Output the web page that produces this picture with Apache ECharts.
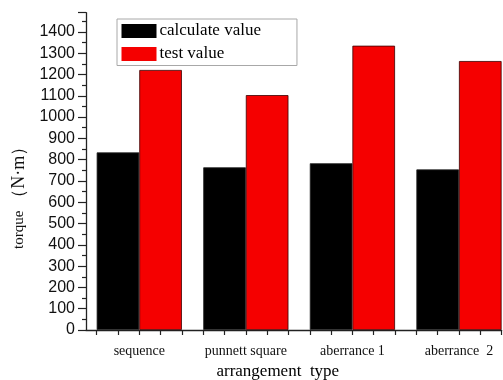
<!DOCTYPE html>
<html>
<head>
<meta charset="utf-8">
<script src="https://cdn.jsdelivr.net/npm/echarts@6/dist/echarts.min.js"></script>
<style>
  html, body { margin: 0; padding: 0; background: #fff; }
  #chart { width: 503px; height: 380px; }
</style>
</head>
<body>
<div id="chart"></div>
<script>
// Arrangement types along the x axis
const categories = ['sequence', 'punnett square', 'aberrance 1', 'aberrance  2'];
// Torque values (N·m) for each arrangement
const calculateValues = [834, 764, 783, 754];
const testValues = [1221, 1103, 1335, 1263];
// Tick labels shown on the torque axis
const yTickLabels = [0, 100, 200, 300, 400, 500, 600, 700, 800, 900, 1000, 1100, 1200, 1300, 1400];

const seriesNames = ['calculate value', 'test value'];

// Categories are placed at 1..n on a value axis so ticks can fall on bar edges and centres
const catPos = categories.map((_, i) => i + 1);
const xTicks = [];
catPos.forEach(p => { [-0.4, -0.2, 0, 0.2, 0.4].forEach(d => xTicks.push(+(p + d).toFixed(2))); });

const serif = 'Liberation Serif, Times New Roman, serif';
const sans = 'Liberation Sans, Arial, sans-serif';

const chart = echarts.init(document.getElementById('chart'), null, { renderer: 'canvas' });
chart.setOption({
  animation: false,
  backgroundColor: '#ffffff',
  grid: { left: 86, top: 12.7, right: 1.4, bottom: 50, containLabel: false, outerBoundsMode: 'none' },
  legend: {
    orient: 'vertical',
    left: 117,
    top: 19,
    data: seriesNames,
    itemWidth: 35,
    itemHeight: 14,
    itemGap: 6,
    padding: [3.5, 36, 3, 4.5],
    borderColor: '#a8a8a8',
    borderWidth: 1,
    icon: 'rect',
    itemStyle: { borderWidth: 0 },
    textStyle: { fontFamily: serif, fontSize: 17, color: '#000', lineHeight: 14, padding: [0, 0, 0, -2] }
  },
  xAxis: {
    type: 'value',
    min: 0.5,
    max: 4.4,
    name: 'arrangement  type',
    nameLocation: 'middle',
    nameGap: 30,
    nameTextStyle: { fontFamily: serif, fontSize: 17, color: '#000', padding: [0, 32, 0, 0] },
    splitLine: { show: false },
    axisLine: { show: true, lineStyle: { color: '#222', width: 1.3 } },
    axisTick: { show: true, length: 5, customValues: xTicks, lineStyle: { color: '#222', width: 1.2 } },
    axisLabel: {
      customValues: catPos,
      margin: 14,
      fontFamily: serif,
      fontSize: 14,
      color: '#111',
      formatter: v => categories[Math.round(v) - 1] || ''
    }
  },
  yAxis: {
    type: 'value',
    min: 0,
    max: 1490,
    interval: 100,
    name: '{a|torque }{b|（N·m）}',
    nameLocation: 'middle',
    nameGap: 58,
    nameTextStyle: {
      color: '#111',
      padding: [0, 44, 0, 0],
      rich: {
        a: { fontFamily: serif, fontSize: 15, color: '#111' },
        b: { fontFamily: serif, fontSize: 18, color: '#111' }
      }
    },
    splitLine: { show: false },
    axisLine: { show: true, lineStyle: { color: '#222', width: 1.3 } },
    axisTick: { show: true, length: 8, lineStyle: { color: '#222', width: 1.2 } },
    minorTick: { show: true, splitNumber: 2, length: 4, lineStyle: { color: '#222', width: 1.2 } },
    axisLabel: {
      showMaxLabel: false,
      margin: 11,
      fontFamily: sans,
      fontSize: 16,
      color: '#111',
      formatter: v => (yTickLabels.indexOf(v) >= 0 ? String(v) : '')
    }
  },
  series: [
    {
      name: seriesNames[0],
      type: 'bar',
      data: catPos.map((p, i) => [p, calculateValues[i]]),
      barWidth: 42.6,
      barGap: '0%',
      itemStyle: { color: '#000000', borderColor: '#222', borderWidth: 0.8 }
    },
    {
      name: seriesNames[1],
      type: 'bar',
      data: catPos.map((p, i) => [p, testValues[i]]),
      barWidth: 42.6,
      barGap: '0%',
      itemStyle: { color: '#f50000', borderColor: '#3a0000', borderWidth: 0.8 }
    }
  ]
});
</script>
</body>
</html>
